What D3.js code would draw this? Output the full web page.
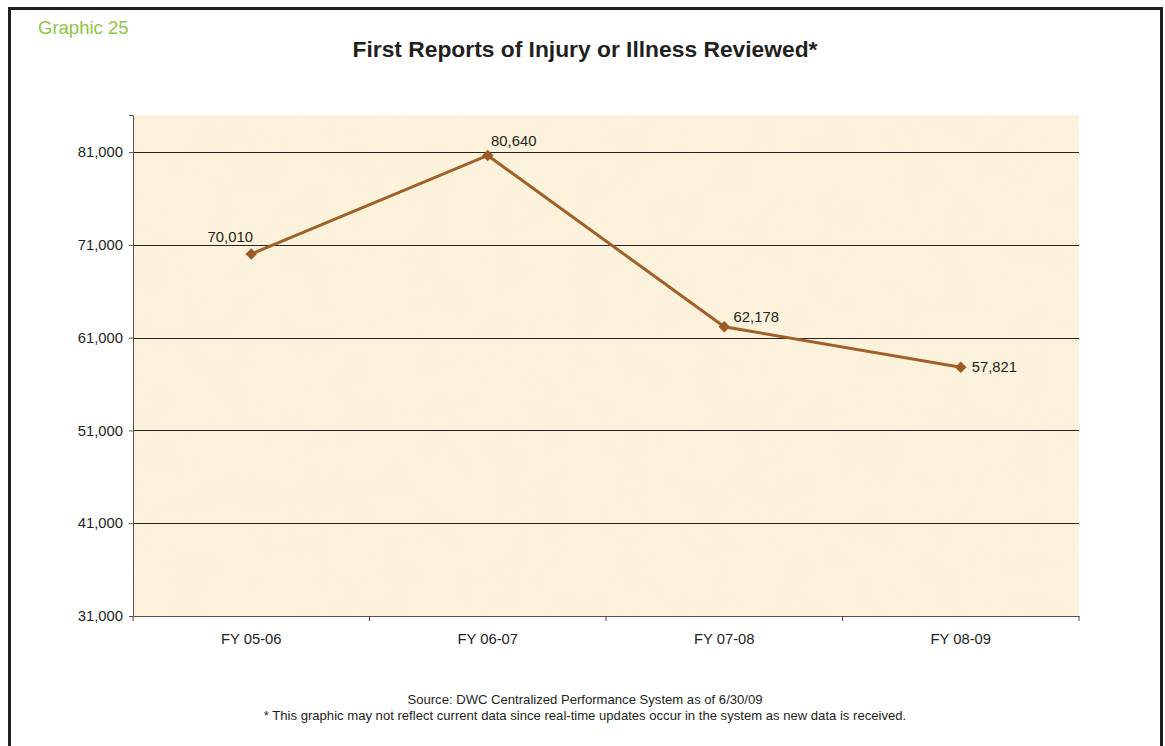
<!DOCTYPE html>
<html>
<head>
<meta charset="utf-8">
<script src="https://cdn.jsdelivr.net/npm/d3@7"></script>
<style>
  html, body { margin: 0; padding: 0; background: #fff; }
  svg { display: block; font-family: "Liberation Sans", Arial, sans-serif; }
</style>
</head>
<body>
<svg id="chart" width="1165" height="746"></svg>
<script>
// chart data
var years = ["FY 05-06", "FY 06-07", "FY 07-08", "FY 08-09"];
var reports = [70010, 80640, 62178, 57821];
var yTicks = [31000, 41000, 51000, 61000, 71000, 81000];

var width = 1165, height = 746;
var margin = { left: 133, right: 86, top: 115, bottom: 130 };
var plotW = width - margin.left - margin.right;
var plotH = height - margin.top - margin.bottom;

// where each value label sits relative to its point
var labelPos = [
    { dx: -21, dy: -12, anchor: "middle" },
    { dx: 26, dy: -9, anchor: "middle" },
    { dx: 32, dy: -5, anchor: "middle" },
    { dx: 11, dy: 5, anchor: "start" }
];

var svg = d3.select("#chart");

// outer frame
svg.append("rect")
    .attr("x", 9.5).attr("y", 8.5)
    .attr("width", 1152).attr("height", 760)
    .attr("fill", "none")
    .attr("stroke", "#231f20")
    .attr("stroke-width", 3);

svg.append("text")
    .attr("x", 38).attr("y", 34)
    .attr("fill", "#8cc63f")
    .style("font-size", "18.5px")
    .text("Graphic 25");

svg.append("text")
    .attr("x", 585).attr("y", 57)
    .attr("text-anchor", "middle")
    .attr("fill", "#231f20")
    .style("font-size", "22.8px")
    .style("font-weight", "bold")
    .text("First Reports of Injury or Illness Reviewed*");

var x = d3.scaleBand().domain(years).range([0, plotW]);
var y = d3.scaleLinear().domain([31000, 85000]).range([plotH, 0]);

var defs = svg.append("defs");
var filt = defs.append("filter").attr("id", "parch")
    .attr("x", 0).attr("y", 0).attr("width", "100%").attr("height", "100%");
filt.append("feTurbulence")
    .attr("type", "fractalNoise")
    .attr("baseFrequency", "0.025")
    .attr("numOctaves", 3)
    .attr("seed", 4)
    .attr("result", "noise");
filt.append("feColorMatrix")
    .attr("in", "noise")
    .attr("type", "matrix")
    .attr("values", "0 0 0 0 0.97  0 0 0 0 0.89  0 0 0 0 0.72  0 0 0 0.3 -0.07")
    .attr("result", "tint");
filt.append("feComposite").attr("in", "tint").attr("in2", "SourceGraphic").attr("operator", "in").attr("result", "t2");
filt.append("feMerge").selectAll("feMergeNode")
    .data(["SourceGraphic", "t2"]).enter().append("feMergeNode").attr("in", function(d) { return d; });

var g = svg.append("g")
    .attr("transform", "translate(" + margin.left + "," + margin.top + ")");

g.append("rect")
    .attr("width", plotW).attr("height", plotH)
    .attr("fill", "#fdf2dc")
    .attr("filter", "url(#parch)");

// gridlines
g.selectAll(".grid")
    .data(yTicks.slice(1))
    .enter().append("line")
    .attr("x1", 0).attr("x2", plotW)
    .attr("y1", function(d) { return Math.round(y(d)) + 0.5; })
    .attr("y2", function(d) { return Math.round(y(d)) + 0.5; })
    .attr("stroke", "#2b2222")
    .attr("stroke-width", 1);

var yAxis = g.append("g")
    .call(d3.axisLeft(y).tickValues(yTicks).tickSize(4).tickPadding(6).tickFormat(d3.format(",")));
var xAxis = g.append("g")
    .attr("transform", "translate(0," + plotH + ")")
    .call(d3.axisBottom(x).tickSize(0).tickPadding(17));

// x ticks at category boundaries
xAxis.selectAll(".bound")
    .data(d3.range(years.length + 1))
    .enter().append("line")
    .attr("x1", function(i) { return i * x.step(); })
    .attr("x2", function(i) { return i * x.step(); })
    .attr("y1", 0).attr("y2", 5)
    .attr("stroke", "#444");

[yAxis, xAxis].forEach(function(a) {
    a.select(".domain").attr("stroke", "#555");
    a.selectAll(".tick line").attr("stroke", "#555");
    a.selectAll("text")
        .attr("fill", "#231f20")
        .style("font-size", "14.8px")
        .style("font-family", "Liberation Sans, Arial, sans-serif");
});

var cx = function(i) { return x(years[i]) + x.bandwidth() / 2; };

var line = d3.line()
    .x(function(d, i) { return cx(i); })
    .y(function(d) { return y(d); });

g.append("path")
    .datum(reports)
    .attr("d", line)
    .attr("fill", "none")
    .attr("stroke", "#a0602a")
    .attr("stroke-width", 3);

g.selectAll(".pt")
    .data(reports)
    .enter().append("path")
    .attr("d", d3.symbol().type(d3.symbolDiamond2).size(85))
    .attr("transform", function(d, i) { return "translate(" + cx(i) + "," + y(d) + ")"; })
    .attr("fill", "#9c5a24");

g.selectAll(".lbl")
    .data(reports)
    .enter().append("text")
    .attr("x", function(d, i) { return cx(i) + labelPos[i].dx; })
    .attr("y", function(d, i) { return y(d) + labelPos[i].dy; })
    .attr("text-anchor", function(d, i) { return labelPos[i].anchor; })
    .attr("fill", "#231f20")
    .style("font-size", "14.8px")
    .text(function(d) { return d3.format(",")(d); });

var foot = svg.append("g")
    .attr("text-anchor", "middle")
    .attr("fill", "#231f20")
    .style("font-size", "13.1px");
foot.append("text").attr("x", 585).attr("y", 704)
    .text("Source: DWC Centralized Performance System as of 6/30/09");
foot.append("text").attr("x", 585).attr("y", 720)
    .text("* This graphic may not reflect current data since real-time updates occur in the system as new data is received.");
</script>
</body>
</html>
